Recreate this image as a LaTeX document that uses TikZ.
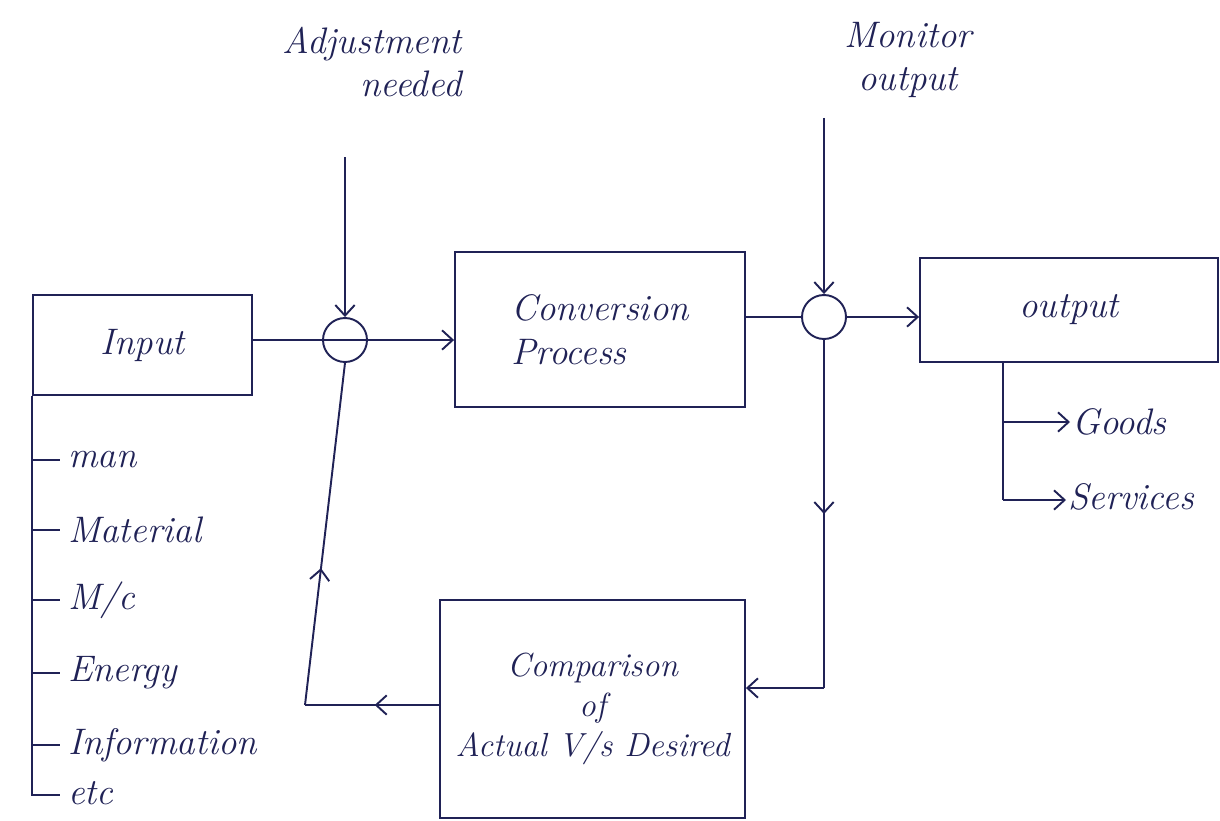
\documentclass[tikz,border=0pt]{standalone}
\usetikzlibrary{arrows.meta,decorations.markings}
\definecolor{ink}{RGB}{32,34,86}
\newcommand\handfont{\fontsize{21}{25}\selectfont\itshape}
\newcommand\smallhandfont{\fontsize{19}{23}\selectfont\itshape}
\tikzset{
  box/.style={draw=ink, line width=1.1pt, text=ink, font=\handfont, inner sep=0pt},
  junction/.style={circle, draw=ink, line width=1.1pt, minimum size=0.88cm, inner sep=0pt},
  lbl/.style={text=ink, font=\handfont, inner sep=1pt},
  plain/.style={draw=ink, line width=1.1pt},
  conn/.style={draw=ink, line width=1.1pt, -{Straight Barb[length=6pt,width=11pt]}},
  midarrow/.style={decoration={markings, mark=at position #1 with {\arrow{Straight Barb[length=6pt,width=11pt]}}}, postaction={decorate}},
  midarrow/.default=0.5
}
\begin{document}
\begin{tikzpicture}[x=0.02cm, y=-0.02cm]
\useasboundingbox (0,0) rectangle (1220,821);

% boxes
\node[box, minimum width=4.38cm, minimum height=2.0cm] (in) at (142.5,345) {Input};
\node[box, minimum width=5.8cm, minimum height=3.1cm, align=left] (conv) at (600,329.5) {Conversion\\Process};
\node[box, minimum width=5.96cm, minimum height=2.08cm] (out) at (1069,310) {output};
\node[box, minimum width=6.1cm, minimum height=4.36cm, align=center, font=\smallhandfont] (comp) at (592.5,709) {Comparison\\of\\Actual V/s Desired};

% junctions
\node[junction] (c1) at (345,340) {};
\node[junction] (c2) at (824,317) {};

% top labels
\node[lbl, align=right] (adj) at (372,62) {Adjustment\\needed};
\node[lbl, align=center] (mon) at (908,60) {Monitor\\output};

\coordinate (adjtop) at (345,157);
\coordinate (montop) at (824,118);

% main flow
\draw[plain] (in.east |- c1.west) -- (c1.east);
\draw[conn] (c1.east) -- (conv.west |- c1.east);
\draw[conn] (adjtop) -- (c1.north);
\draw[plain] (conv.east |- c2.west) -- (c2.west);
\draw[conn] (c2.east) -- (out.west |- c2.east);
\draw[conn] (montop) -- (c2.north);

% feedback loop
\coordinate (k2) at (824,688);
\coordinate (k1) at (305,705);
\draw[plain, midarrow=0.5] (c2.south) -- (k2);
\draw[conn] (k2) -- (comp.east |- k2);
\draw[plain, midarrow=0.48] (comp.west |- k1) -- (k1);
\draw[plain, midarrow=0.4] (k1) -- (c1.south);

% input list
\coordinate (bend) at (in.south west |- 0,795);
\draw[plain] (in.south west) -- (bend) -- (60,795);
\foreach \yy/\nm/\tx in {460/man/man, 530/mat/Material, 600/mc/{M/c}, 673/en/Energy, 745/inf/Information}{
  \draw[plain] (in.south west |- 0,\yy) -- (60,\yy);
  \node[lbl, anchor=west] (\nm) at (66,\yy) {\tx};
}
\node[lbl, anchor=west] (etc) at (66,793) {etc};

% output branches
\coordinate (bx) at (1003,0);
\coordinate (g) at (1003,422);
\coordinate (s) at (1003,500);
\node[lbl, anchor=west] (goods) at (1070,422) {Goods};
\node[lbl, anchor=west] (serv) at (1066,497) {Services};
\draw[plain] (out.south -| bx) -- (s);
\draw[conn] (g) -- (goods.west |- g);
\draw[conn] (s) -- (serv.west |- s);
\end{tikzpicture}
\end{document}
